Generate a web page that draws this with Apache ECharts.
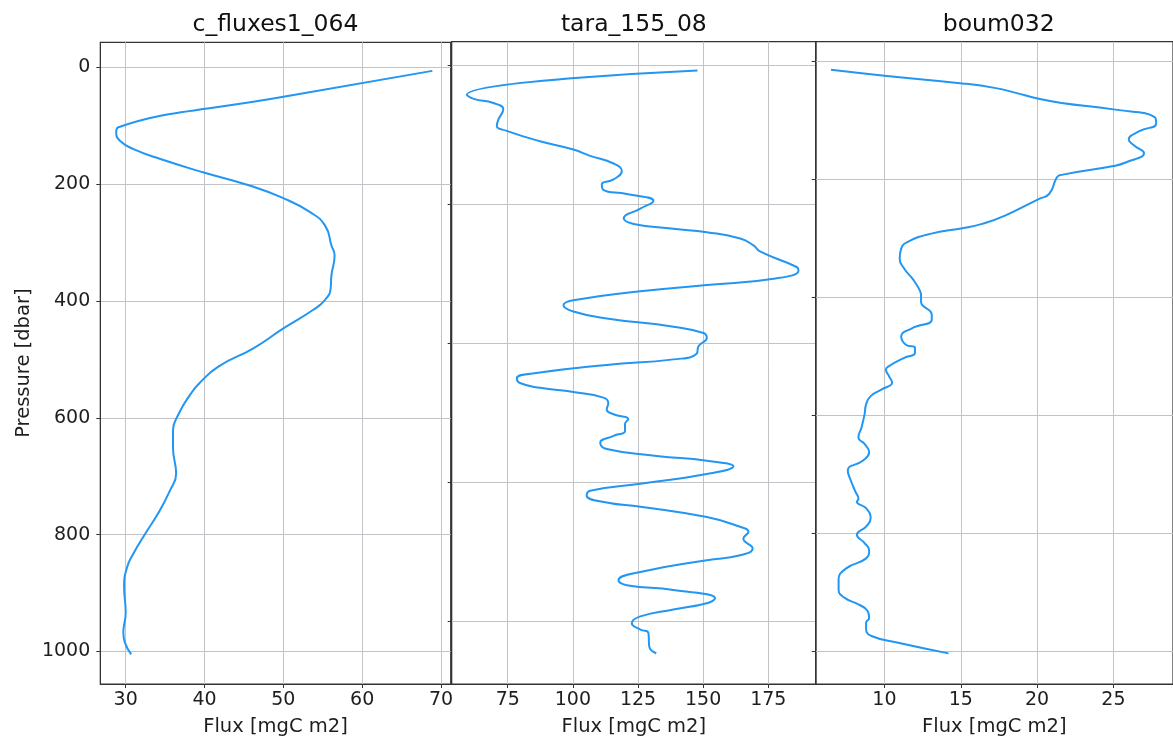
<!DOCTYPE html>
<html>
<head>
<meta charset="utf-8">
<script src="https://cdn.jsdelivr.net/npm/echarts@6/dist/echarts.min.js"></script>
<style>
  html, body { margin: 0; padding: 0; background: #fff; }
  #chart { width: 1173px; height: 742px; }
</style>
</head>
<body>
<div id="chart"></div>
<script>
// 面板标题
var titles = ['c_fluxes1_064', 'tara_155_08', 'boum032'];

// c_fluxes1_064 剖面
var presA = [6, 50, 103, 112, 126, 140, 157, 180, 201, 224, 248, 271, 305, 322, 356, 379, 398, 415, 447, 481, 512,
  540, 560, 594, 622, 651, 696, 725, 764, 798, 832, 855, 889, 934, 968, 985, 1005];
var fluxA = [68.9, 50.2, 29.0, 28.8, 29.3, 31.0, 34.4, 39.9, 45.4, 50.0, 53.4, 55.3, 56.1, 56.5, 56.1, 56.0, 55.3, 53.8, 50.0, 46.2, 41.8,
  39.4, 38.2, 36.7, 36.0, 36.0, 36.4, 35.6, 34.1, 32.5, 31.0, 30.2, 29.8, 30.0, 29.7, 29.9, 30.7];

// tara_155_08 剖面
var presB = [7, 42, 48, 54, 63, 78, 87, 94, 109, 121, 130, 141, 152, 164, 171, 179, 185, 195, 206, 220, 228, 235, 240, 249, 259, 268,
  290, 295, 307, 316, 325, 338, 345, 354, 364, 376, 385, 392, 404, 415, 423, 431, 442, 450, 457, 464, 470, 478, 486, 495, 502,
  509, 516, 526, 533, 543, 552, 562, 569, 577, 588, 602, 612, 619, 629, 635, 650, 664, 671, 681, 695, 705, 712, 729, 741, 748,
  755, 767, 774, 783, 793, 803, 812, 817, 836, 846];
var fluxB = [147.8, 59.3, 61.9, 69.5, 73.3, 71.4, 70.8, 74.6, 87.4, 100.2, 106.6, 115.6, 118.8, 115.6, 111.1, 111.7, 120.7, 130.9, 125.9, 119.5, 123.3, 138.6, 151.4, 164.2, 169.3, 172.0,
  185.9, 186.6, 177.0, 151.4, 125.9, 100.2, 96.4, 100.2, 113.0, 138.6, 150.1, 151.4, 148.2, 147.5, 138.6, 113.0, 87.4, 78.5, 79.7, 87.4, 100.2, 111.7, 113.6, 113.0, 115.6,
  121.3, 120.0, 120.0, 115.6, 110.5, 113.0, 132.2, 151.4, 161.6, 151.4, 125.9, 106.6, 105.3, 113.0, 125.9, 151.4, 164.2, 167.4, 165.4, 169.0, 164.2, 151.4, 125.9, 117.5, 120.7,
  138.6, 154.6, 151.4, 138.6, 125.9, 122.6, 125.9, 129.0, 129.3, 132.0];

// boum032 剖面
var presC = [14, 24, 37, 45, 53, 63, 70, 81, 94, 105, 118, 132, 143, 155, 171, 177, 192, 196, 224, 233, 261, 275, 282, 292, 306, 317,
  334, 351, 370, 387, 396, 407, 429, 438, 452, 466, 480, 485, 494, 502, 516, 522, 533, 544, 556, 567, 581, 598, 620, 637, 648,
  662, 676, 693, 710, 729, 741, 746, 757, 774, 788, 802, 816, 828, 842, 859, 878, 895, 909, 920, 931, 943, 951, 962, 974, 985, 1003];
var fluxC = [6.5, 10.0, 15.1, 17.3, 18.6, 20.1, 21.6, 25.0, 27.7, 27.8, 26.7, 26.0, 26.4, 27.0, 25.8, 25.0, 21.6, 21.3, 20.8, 20.1, 17.9, 16.4, 15.2, 13.0, 11.5, 11.1,
  11.0, 11.3, 11.9, 12.3, 12.4, 12.4, 13.1, 13.1, 11.8, 11.1, 11.4, 12.0, 12.0, 11.3, 10.3, 10.1, 10.3, 10.5, 9.8, 9.1, 8.8, 8.7, 8.5, 8.3, 8.7,
  9.0, 8.6, 7.6, 7.8, 8.1, 8.3, 8.2, 8.8, 9.1, 8.8, 8.2, 8.7, 9.0, 8.8, 7.5, 7.0, 7.0, 7.4, 8.3, 8.9, 9.0, 8.8, 8.8, 9.2, 10.9, 14.2];

// 刻度
var presTicks = [0, 200, 400, 600, 800, 1000];
var presTicksB = [0, 200, 400, 600, 800];
var fluxTicksA = [30, 40, 50, 60, 70];
var fluxTicksB = [75, 100, 125, 150, 175];
var fluxTicksC = [10, 15, 20, 25];

var FONT = 'DejaVu Sans';
var lineColor = '#2196f3';
var gridColor = '#c2c2c8';
var axisColor = '#333';
var textColor = '#1e1e1e';

function pairs(xs, ys) {
  return xs.map(function (v, i) { return [v, ys[i]]; });
}

function plain(v) { return String(v); }

function xAxisOf(idx, min, max, ticks) {
  return {
    type: 'value', gridIndex: idx, min: min, max: max,
    name: 'Flux [mgC m2]', nameLocation: 'middle', nameGap: 33,
    nameTextStyle: { fontFamily: FONT, fontSize: 19.5, color: textColor },
    axisLine: { show: true, onZero: false, lineStyle: { color: axisColor, width: 1 } },
    axisTick: { show: true, inside: false, length: 4, customValues: ticks, lineStyle: { color: axisColor } },
    axisLabel: { customValues: ticks, formatter: plain, margin: 7, fontFamily: FONT, fontSize: 19, color: textColor, hideOverlap: false },
    splitLine: { show: true, lineStyle: { color: gridColor, width: 1 } }
  };
}

function yAxisOf(idx, min, max, ticks, labels) {
  var ax = {
    type: 'value', gridIndex: idx, inverse: true, min: min, max: max,
    axisLine: { show: true, onZero: false, lineStyle: { color: axisColor, width: 1 } },
    axisTick: { show: true, inside: false, length: 4, customValues: ticks, lineStyle: { color: axisColor } },
    axisLabel: { show: labels, customValues: ticks, formatter: plain, margin: 10, fontFamily: FONT, fontSize: 19, color: textColor },
    splitLine: { show: true, lineStyle: { color: gridColor, width: 1 } }
  };
  if (labels) {
    ax.name = 'Pressure [dbar]';
    ax.nameLocation = 'middle';
    ax.nameGap = 66;
    ax.nameRotate = 90;
    ax.nameTextStyle = { fontFamily: FONT, fontSize: 19.5, color: textColor };
  }
  return ax;
}

var grids = [
  { left: 100.3, top: 42.3, width: 350.4, height: 645.7 },
  { left: 451.7, top: 41.7, width: 364.3, height: 646.3 },
  { left: 815.7, top: 41.7, width: 366, height: 646.5 }
];

var chart = echarts.init(document.getElementById('chart'), null, { renderer: 'canvas' });

var option = {
  animation: false,
  backgroundColor: '#fff',
  grid: grids.map(function (g) {
    return { left: g.left, top: g.top, width: g.width, height: g.height, show: true,
      borderColor: axisColor, borderWidth: 1.2, containLabel: false };
  }),
  graphic: titles.map(function (t, i) {
    return {
      type: 'text', x: grids[i].left + grids[i].width / 2, y: 25, silent: true,
      style: { text: t, fontFamily: FONT, fontSize: 23.5, fill: '#111', align: 'center', verticalAlign: 'middle' }
    };
  }),
  xAxis: [
    xAxisOf(0, 26.78, 71.23, fluxTicksA),
    xAxisOf(1, 53.5, 193.3, fluxTicksB),
    xAxisOf(2, 5.5, 28.9, fluxTicksC)
  ],
  yAxis: [
    yAxisOf(0, -42.9, 1055.8, presTicks, true),
    yAxisOf(1, -34.3, 890.3, presTicksB, false),
    yAxisOf(2, -33.7, 1054.9, presTicks, false)
  ],
  series: [
    [fluxA, presA], [fluxB, presB], [fluxC, presC]
  ].map(function (d, i) {
    return {
      type: 'line', xAxisIndex: i, yAxisIndex: i,
      data: pairs(d[0], d[1]),
      showSymbol: false, smooth: 0.5, clip: true,
      lineStyle: { color: lineColor, width: 2 }
    };
  })
};

chart.setOption(option);
</script>
</body>
</html>
